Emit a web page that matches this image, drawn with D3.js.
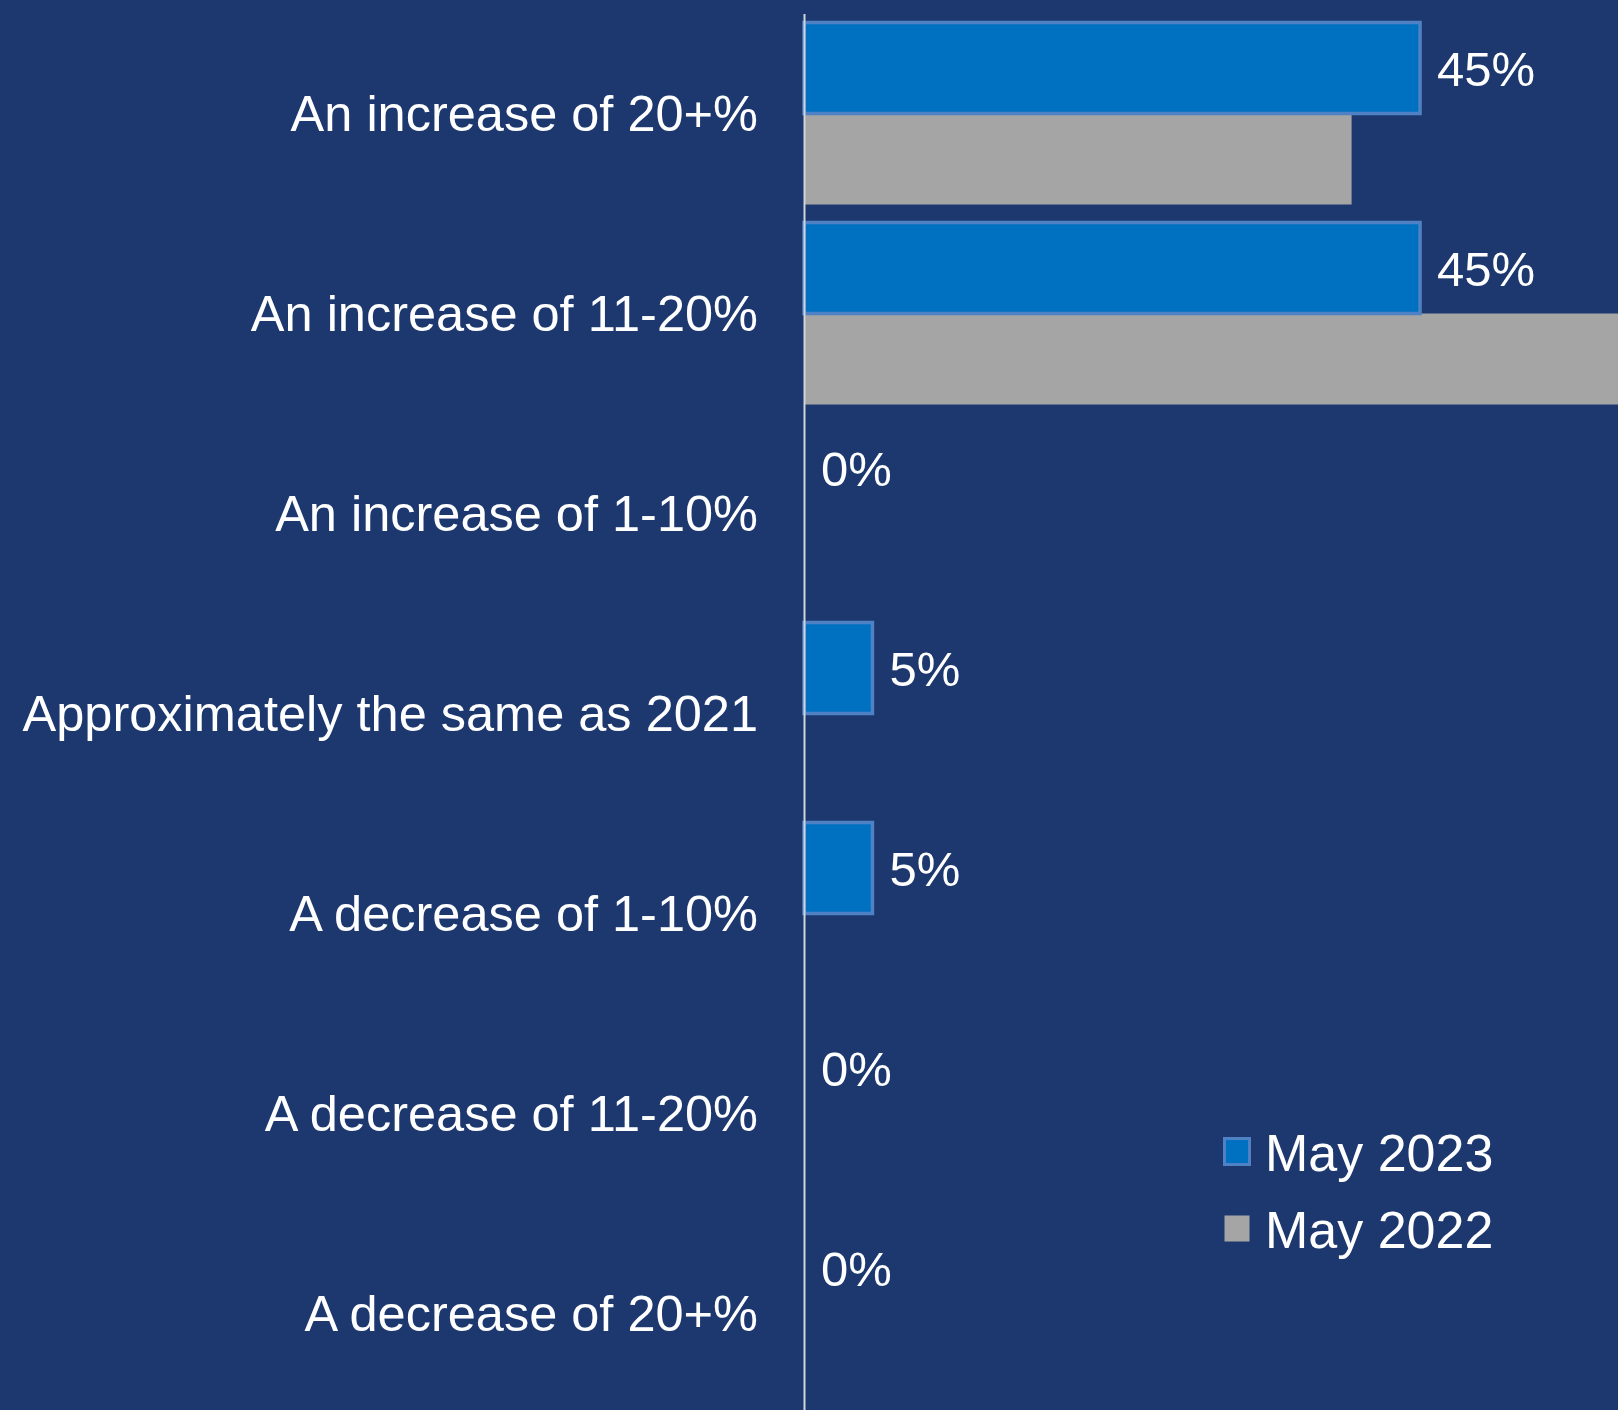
<!DOCTYPE html>
<html>
<head>
<meta charset="utf-8">
<script src="https://cdn.jsdelivr.net/npm/d3@7"></script>
<style>
  html, body { margin: 0; padding: 0; background: #1d386f; }
  svg { display: block; }
  text { font-family: "Liberation Sans", Arial, sans-serif; fill: #ffffff; }
</style>
</head>
<body>
<svg id="chart" width="1618" height="1410"></svg>
<script>
// Expected change in spend, by answer category
const categories = [
  "An increase of 20+%",
  "An increase of 11-20%",
  "An increase of 1-10%",
  "Approximately the same as 2021",
  "A decrease of 1-10%",
  "A decrease of 11-20%",
  "A decrease of 20+%"
];
const seriesNames = ["May 2023", "May 2022"];
const may2023 = [45, 45, 0, 5, 5, 0, 0];
const may2022 = [40, 60, 0, 0, 0, 0, 0];
const seriesColors = ["#0070c0", "#a5a5a5"];

const W = 1618, H = 1410;
const svg = d3.select("#chart");

svg.append("rect").attr("width", W).attr("height", H).attr("fill", "#1d386f");

const x = d3.scaleLinear().domain([0, 100]).range([804, 2173]);
const y = d3.scaleBand().domain(categories)
  .range([13.5, 1413.5]).paddingInner(0.09).paddingOuter(0.045);
const ySub = d3.scaleBand().domain(seriesNames).range([0, y.bandwidth()]);

const rows = categories.map((c, i) => ({ cat: c, v23: may2023[i], v22: may2022[i] }));

// 2022 bars sit underneath so the 2023 outline stays on top
svg.append("g").selectAll("rect").data(rows.filter(d => d.v22 > 0)).join("rect")
  .attr("x", x(0))
  .attr("y", d => y(d.cat) + ySub("May 2022"))
  .attr("width", d => x(d.v22) - x(0))
  .attr("height", ySub.bandwidth())
  .attr("fill", seriesColors[1]);

svg.append("g").selectAll("rect").data(rows.filter(d => d.v23 > 0)).join("rect")
  .attr("x", x(0))
  .attr("y", d => y(d.cat) + ySub("May 2023"))
  .attr("width", d => x(d.v23) - x(0))
  .attr("height", ySub.bandwidth())
  .attr("fill", seriesColors[0])
  .attr("stroke", "#4f82c4")
  .attr("stroke-width", 3.5);

// value labels for the 2023 series
svg.append("g").selectAll("text").data(rows).join("text")
  .attr("x", d => x(d.v23) + 17)
  .attr("y", d => y(d.cat) + ySub("May 2023") + ySub.bandwidth() / 2 + 1)
  .attr("dominant-baseline", "central")
  .attr("font-size", 49)
  .text(d => d.v23 + "%");

// category axis
const axis = svg.append("g")
  .attr("transform", `translate(${x(0)},0)`)
  .call(d3.axisLeft(y).tickSize(0).tickPadding(46));
axis.select(".domain").attr("stroke", "#d0d4dc").attr("stroke-width", 2);
axis.selectAll(".tick text")
  .attr("font-size", 50.5)
  .attr("y", 1.5)
  .attr("fill", "#ffffff")
  .style("font-family", '"Liberation Sans", Arial, sans-serif');

// legend
const legend = svg.append("g").attr("transform", "translate(1223,1137)");
seriesNames.forEach((name, i) => {
  const g = legend.append("g").attr("transform", `translate(0,${i * 77})`);
  g.append("rect")
    .attr("x", 1.5).attr("y", 1.5)
    .attr("width", 25).attr("height", 26)
    .attr("fill", seriesColors[i])
    .attr("stroke", i === 0 ? "#4f82c4" : "none")
    .attr("stroke-width", i === 0 ? 3 : 0);
  g.append("text")
    .attr("x", 42).attr("y", 16)
    .attr("dominant-baseline", "central")
    .attr("font-size", 52)
    .text(name);
});
</script>
</body>
</html>
